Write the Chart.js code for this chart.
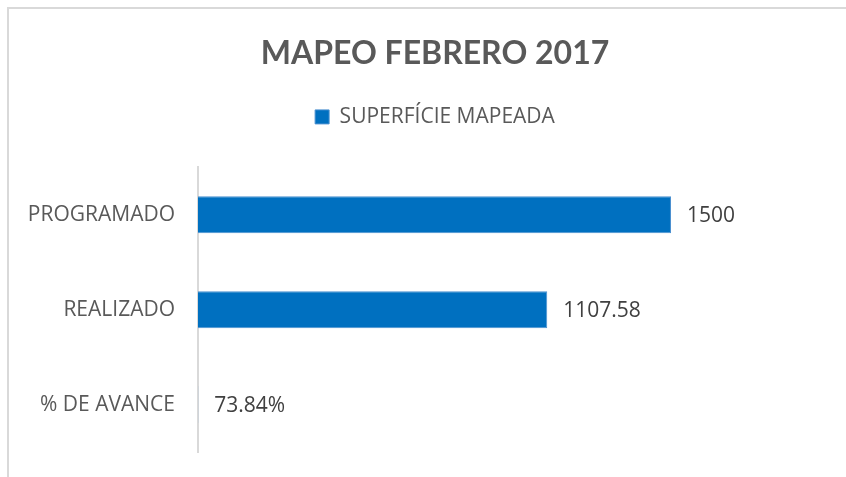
<!DOCTYPE html>
<html>
<head>
<meta charset="utf-8">
<script src="https://cdn.jsdelivr.net/npm/chart.js@4"></script>
<style>
  html, body { margin: 0; padding: 0; background: #fff; }
  #wrap { position: relative; width: 846px; height: 477px; overflow: hidden; }
  #frame { position: absolute; left: 7px; top: 7px; width: 860px; height: 490px;
           border: 2px solid #d9d9d9; box-sizing: border-box; }
  canvas { position: absolute; left: 0; top: 0; }
</style>
</head>
<body>
<div id="wrap">
  <div id="frame"></div>
  <canvas id="mapeoChart" width="846" height="477"></canvas>
</div>
<script>
// Data
const categories = ["PROGRAMADO", "REALIZADO", "% DE AVANCE"];
const superficie = [1500, 1107.58, 0.7384];
const valueLabels = ["1500", "1107.58", "73.84%"];

const seriesName = "SUPERFÍCIE MAPEADA";
const chartTitle = "MAPEO FEBRERO 2017";

// extra space under the legend
const legendGap = {
  id: "legendGap",
  beforeInit(chart) {
    const fit = chart.legend.fit;
    chart.legend.fit = function () {
      fit.call(this);
      this.height += 30;
    };
  }
};

// value labels next to the bars
const barLabels = {
  id: "barLabels",
  afterDatasetsDraw(chart) {
    const ctx = chart.ctx;
    const meta = chart.getDatasetMeta(0);
    ctx.save();
    ctx.font = "21px 'Open Sans'";
    ctx.fillStyle = "#404040";
    ctx.textAlign = "left";
    ctx.textBaseline = "middle";
    meta.data.forEach((bar, i) => {
      ctx.fillText(valueLabels[i], bar.x + 16, bar.y + 1);
    });
    ctx.restore();
  }
};

const ctx = document.getElementById("mapeoChart").getContext("2d");

new Chart(ctx, {
  type: "bar",
  data: {
    labels: categories,
    datasets: [{
      label: seriesName,
      data: superficie,
      backgroundColor: "#0070C0",
      borderColor: "#4a90d0",
      borderWidth: 1,
      barPercentage: 0.39,
      categoryPercentage: 1
    }]
  },
  options: {
    indexAxis: "y",
    responsive: false,
    animation: false,
    layout: {
      padding: { left: 24, right: 0, top: 0, bottom: 25 }
    },
    scales: {
      x: {
        display: false,
        min: 0,
        max: 2055
      },
      y: {
        grid: { display: false, drawTicks: false },
        border: { display: true, color: "#d9d9d9", width: 2 },
        ticks: {
          color: "#595959",
          font: { family: "'Open Sans'", size: 21 },
          padding: 23
        },
        afterFit(scale) {
          scale.width = 174;
          scale.paddingTop = 0;
          scale.paddingBottom = 0;
        }
      }
    },
    plugins: {
      title: {
        display: true,
        text: chartTitle,
        color: "#595959",
        font: { family: "Lato", size: 32, weight: "bold" },
        padding: { top: 34, bottom: 24 }
      },
      legend: {
        display: true,
        labels: {
          color: "#595959",
          font: { family: "'Open Sans'", size: 21 },
          boxWidth: 14,
          boxHeight: 14,
          padding: 10
        }
      },
      tooltip: { enabled: false }
    }
  },
  plugins: [legendGap, barLabels]
});
</script>
</body>
</html>
